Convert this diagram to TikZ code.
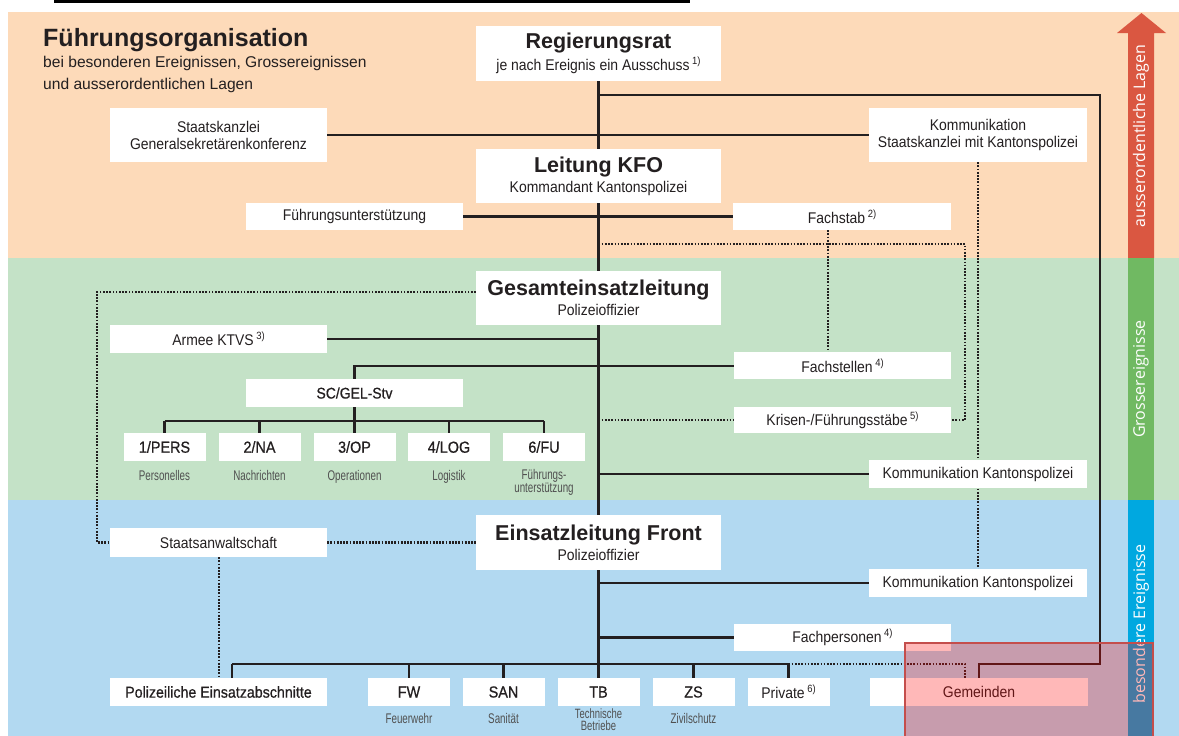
\documentclass[tikz,border=0pt]{standalone}
\usepackage{fontspec}
\setmainfont{Liberation Sans}[FakeStretch=0.9]
\newfontfamily\hdf{Liberation Sans}
\newfontfamily\condf{Liberation Sans}[FakeStretch=0.7]
\newfontfamily\medf{Liberation Sans}[FakeStretch=0.9,FakeBold=0.7]
\newfontfamily\sidef{Open Sans}
\definecolor{peach}{RGB}{253,218,185}
\definecolor{greenbg}{RGB}{196,226,199}
\definecolor{bluebg}{RGB}{178,217,241}
\definecolor{sred}{RGB}{218,87,65}
\definecolor{sgreen}{RGB}{112,185,98}
\definecolor{sblue}{RGB}{0,168,224}
\definecolor{txt}{RGB}{35,31,32}
\definecolor{gtxt}{RGB}{80,80,80}
\definecolor{ovlb}{RGB}{196,78,76}
\newcommand{\fnote}[1]{\,\raisebox{0.4em}{\fontsize{10.5}{10.5}\selectfont #1}}
\pgfdeclarelayer{bgl}
\pgfdeclarelayer{linel}
\pgfdeclarelayer{frontl}
\pgfsetlayers{bgl,linel,main,frontl}
\tikzset{
  bx/.style={fill=white, inner sep=0pt, align=center, text=txt, font=\fontsize{15.5}{17}\selectfont},
  wide/.style={bx, minimum width=217pt, minimum height=27pt},
  small/.style={bx, minimum width=82pt, minimum height=28pt, font=\medf\fontsize{16}{17}\selectfont},
  head/.style={bx, minimum width=245pt, minimum height=55pt},
  lbl/.style={inner sep=0pt, align=center, text=gtxt, font=\condf\fontsize{14}{13.5}\selectfont},
  conn/.style={line width=2.3pt, txt},
  spine/.style={line width=3pt, txt},
  dotl/.style={line width=2.1pt, txt, dash pattern=on 1.7pt off 1.5pt},
  side/.style={text=white, font=\sidef\fontsize{16}{16}\selectfont, rotate=90, inner sep=0pt}
}
\newcommand{\hd}[2]{{\hdf\bfseries\fontsize{21.5}{21}\selectfont #1}\\[3pt]{\fontsize{15.5}{16}\selectfont #2}}
\begin{document}
\begin{tikzpicture}[x=1pt,y=-1pt]
\useasboundingbox (0,0) rectangle (1179,736);
\begin{pgfonlayer}{bgl}
\fill[white] (0,0) rectangle (1179,736);
\fill[peach] (8,12) rectangle (1179,258);
\fill[greenbg] (8,258) rectangle (1179,500);
\fill[bluebg] (8,500) rectangle (1179,736);
\draw[line width=3pt, black] (54,1.5) -- (690,1.5);
\fill[sred] (1128,258) -- (1128,33) -- (1117,33) -- (1141.5,13) -- (1166,33) -- (1154,33) -- (1154,258) -- cycle;
\fill[sgreen] (1128,258) rectangle (1154,500);
\fill[sblue] (1128,500) rectangle (1154,736);
\end{pgfonlayer}
\node[side] (sa) at (1141,136) {ausserordentliche Lagen};
\node[side] (sg) at (1141,379) {Grossereignisse};
\node[side] (sb) at (1141,624) {besondere Ereignisse};
% title
\node[anchor=base west, inner sep=0pt, text=txt, font=\hdf\bfseries\fontsize{25}{25}\selectfont] (title) at (43,46) {Führungsorganisation};
\node[anchor=base west, inner sep=0pt, text=txt, font=\hdf\fontsize{15.6}{16}\selectfont] (sub1) at (43,67) {bei besonderen Ereignissen, Grossereignissen};
\node[anchor=base west, inner sep=0pt, text=txt, font=\hdf\fontsize{15.6}{16}\selectfont] (sub2) at (43,89) {und ausserordentlichen Lagen};
% nodes
\node[head] (reg) at (598.5,53.5) {\hd{Regierungsrat}{je nach Ereignis ein Ausschuss\fnote{1)}}};
\node[wide, minimum height=54pt] (stk) at (218.5,135) {\fontsize{15.5}{17.5}\selectfont Staatskanzlei\\Generalsekretärenkonferenz};
\node[wide, minimum width=218pt, minimum height=54pt] (kom1) at (978,135) {\fontsize{15.5}{17.5}\selectfont Kommunikation\\Staatskanzlei mit Kantonspolizei};
\node[head, minimum height=54pt] (kfo) at (598.5,176) {\hd{Leitung KFO}{Kommandant Kantonspolizei}};
\node[wide] (fu) at (354.5,216.5) {Führungsunterstützung};
\node[wide, minimum width=218pt] (fst) at (842,216.5) {Fachstab\fnote{2)}};
\node[head, minimum height=54pt] (gel) at (598.5,298) {\hd{Gesamteinsatzleitung}{Polizeioffizier}};
\node[wide, minimum height=28pt] (armee) at (218.5,339) {Armee KTVS\fnote{3)}};
\node[wide] (fstl) at (842.5,365.5) {Fachstellen\fnote{4)}};
\node[wide, minimum height=28pt, font=\medf\fontsize{15.5}{17}\selectfont] (sc) at (354.5,393) {SC/GEL-Stv};
\node[small] (p1) at (164.5,447) {1/PERS};
\node[small] (p2) at (259.5,447) {2/NA};
\node[small] (p3) at (354.5,447) {3/OP};
\node[small] (p4) at (449,447) {4/LOG};
\node[small] (p6) at (544,447) {6/FU};
\node[lbl, anchor=base] (l1) at (164.5,480) {Personelles};
\node[lbl, anchor=base] (l2) at (259.5,480) {Nachrichten};
\node[lbl, anchor=base] (l3) at (354.5,480) {Operationen};
\node[lbl, anchor=base] (l4) at (449,480) {Logistik};
\node[lbl, anchor=north] (l6) at (544,469) {Führungs-\\unterstützung};
\node[wide, minimum height=26pt] (kris) at (842.5,420) {Krisen-/Führungsstäbe\fnote{5)}};
\node[wide, minimum width=218pt, minimum height=28pt] (komk1) at (978,474) {Kommunikation Kantonspolizei};
\node[wide, minimum height=29pt] (staw) at (218.5,542.5) {Staatsanwaltschaft};
\node[head, minimum height=55pt] (elf) at (598.5,542.5) {\hd{Einsatzleitung Front}{Polizeioffizier}};
\node[wide, minimum width=218pt, minimum height=28pt] (komk2) at (978,583) {Kommunikation Kantonspolizei};
\node[wide] (fp) at (842.5,637.5) {Fachpersonen\fnote{4)}};
\node[wide, minimum height=28pt, font=\medf\fontsize{15.8}{17}\selectfont] (pea) at (218.5,692) {Polizeiliche Einsatzabschnitte};
\node[small] (fw) at (409,692) {FW};
\node[small] (san) at (503.5,692) {SAN};
\node[small] (tb) at (598.5,692) {TB};
\node[small] (zs) at (693.5,692) {ZS};
\node[small, font=\fontsize{15.5}{17}\selectfont] (priv) at (788.5,692) {Private\fnote{6)}};
\node[wide, minimum width=218pt, minimum height=28pt] (gem) at (979,692) {Gemeinden};
\node[lbl, anchor=base] (lfw) at (409,723) {Feuerwehr};
\node[lbl, anchor=north, font=\condf\fontsize{13.5}{12}\selectfont] (ltb) at (598.5,709) {Technische\\Betriebe};
\node[lbl, anchor=base] (lsan) at (503.5,723) {Sanität};
\node[lbl, anchor=base] (lzs) at (693.5,723) {Zivilschutz};
% coordinates
\coordinate (r1) at (598.5,95);
\coordinate (r2) at (1100,95);
\coordinate (r3) at (1100,664);
\coordinate (r4) at (979,664);
\coordinate (d1) at (598.5,244);
\coordinate (d2) at (965,244);
\coordinate (d3) at (965,420);
\coordinate (g1) at (97,292);
\coordinate (g2) at (97,542.5);
\coordinate (s1) at (354.5,366);
\coordinate (s2) at (354.5,421);
\coordinate (s3) at (164.5,421);
\coordinate (s4) at (544,421);
\coordinate (b1) at (232,664);
\coordinate (b2) at (788.5,664);
\coordinate (b3) at (965,664);
\begin{pgfonlayer}{linel}
\draw[spine] (reg.south) -- (tb.north);
\draw[conn] (r1) -- (r2) -- (r3) -- (r4) -- (gem.north);
\draw[conn] (stk.east) -- (kom1.west);
\draw[conn] (fu.east) -- (fst.west);
\draw[dotl] (d1) -- (d2) -- (d3) -- (kris.east);
\draw[dotl] (fst.south -| 828,0) -- (fstl.north -| 828,0);
\draw[dotl] (kom1.south) -- (komk2.north);
\draw[dotl] (gel.west |- g1) -- (g1) -- (g2) -- (staw.west);
\draw[conn] (armee.east) -- (armee.east -| reg.south);
\draw[conn] (fstl.west |- s1) -- (s1) -- (sc.north);
\draw[conn] (sc.south) -- (s2);
\draw[conn] (s3) -- (s4);
\draw[conn] (s3) -- (p1.north);
\draw[conn] (p2.north |- s3) -- (p2.north);
\draw[conn] (p3.north |- s3) -- (p3.north);
\draw[conn] (p4.north |- s3) -- (p4.north);
\draw[conn] (s4) -- (p6.north);
\draw[dotl] (kris.west -| reg.south) -- (kris.west);
\draw[conn] (komk1.west -| reg.south) -- (komk1.west);
\draw[dotl] (staw.east) -- (elf.west);
\draw[dotl] (staw.south -| 219,0) -- (pea.north -| 219,0);
\draw[conn] (komk2.west -| reg.south) -- (komk2.west);
\draw[conn] (fp.west -| reg.south) -- (fp.west);
\draw[conn] (b1) -- (b2);
\draw[conn] (b1) -- (pea.north -| b1);
\draw[conn] (fw.north |- b1) -- (fw.north);
\draw[conn] (san.north |- b1) -- (san.north);
\draw[conn] (zs.north |- b1) -- (zs.north);
\draw[conn] (b2) -- (priv.north);
\draw[dotl] (b2) -- (b3) -- (gem.north -| b3);
\end{pgfonlayer}
\begin{pgfonlayer}{frontl}
\fill[red, opacity=0.28] (905,643) rectangle (1153,740);
\draw[ovlb, line width=2pt] (905,740) -- (905,643) -- (1153,643) -- (1153,740);
\end{pgfonlayer}
\end{tikzpicture}
\end{document}
